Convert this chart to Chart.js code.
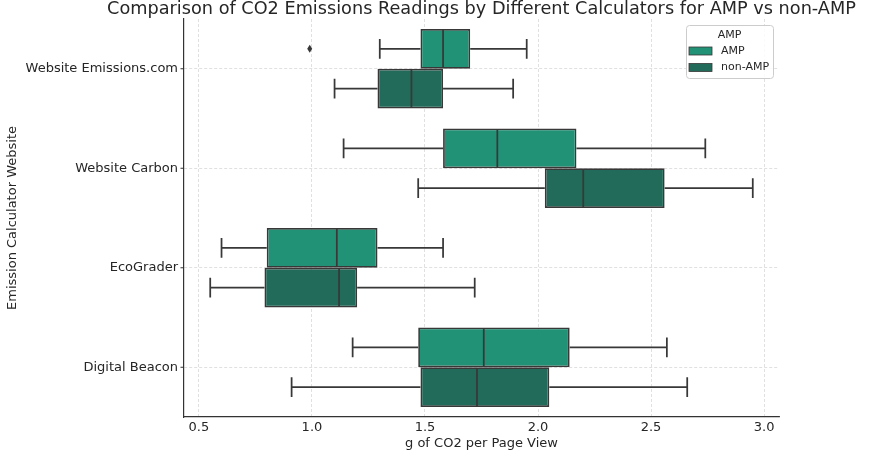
<!DOCTYPE html>
<html>
<head>
<meta charset="utf-8">
<script src="https://cdn.jsdelivr.net/npm/chart.js@4.4.0/dist/chart.umd.min.js"></script>
<style>
  html, body { margin: 0; padding: 0; background: #fff; }
  #wrap { width: 876px; height: 455px; }
</style>
</head>
<body>
<div id="wrap"><canvas id="chart"></canvas></div>
<script>
// Calculators on the y axis
const calculators = ['Website Emissions.com', 'Website Carbon', 'EcoGrader', 'Digital Beacon'];
const seriesNames = ['AMP', 'non-AMP'];
const xTicks = [0.5, 1.0, 1.5, 2.0, 2.5, 3.0];

// AMP box stats (g CO2 per page view)
const ampLow = [1.30, 1.14, 0.60, 1.18];
const ampQ1 = [1.48, 1.58, 0.80, 1.47];
const ampMedian = [1.58, 1.82, 1.11, 1.76];
const ampQ3 = [1.70, 2.17, 1.29, 2.14];
const ampHigh = [1.95, 2.74, 1.58, 2.57];
const ampOutliers = [[0.99], [], [], []];

// non-AMP box stats
const nonLow = [1.10, 1.47, 0.55, 0.91];
const nonQ1 = [1.29, 2.03, 0.79, 1.48];
const nonMedian = [1.44, 2.20, 1.12, 1.73];
const nonQ3 = [1.58, 2.56, 1.20, 2.05];
const nonHigh = [1.89, 2.95, 1.72, 2.66];
const nonOutliers = [[], [], [], []];

const colors = ['#229276', '#226b5a'];
const lineColor = '#383838';
const textColor = '#262626';
const FONT = '"DejaVu Sans", sans-serif';

const stats = [
    { low: ampLow, med: ampMedian, high: ampHigh, out: ampOutliers },
    { low: nonLow, med: nonMedian, high: nonHigh, out: nonOutliers }
];

// Whiskers, medians, outliers, titles and legend
const boxPlugin = {
    id: 'boxExtras',
    afterDatasetsDraw(chart) {
        const ctx = chart.ctx;
        const x = chart.scales.x;
        ctx.save();
        ctx.strokeStyle = lineColor;
        ctx.lineWidth = 1.75;
        stats.forEach((s, d) => {
            const meta = chart.getDatasetMeta(d);
            meta.data.forEach((el, i) => {
                const yc = el.y;
                const h = el.height;
                const q1 = x.getPixelForValue(chart.data.datasets[d].data[i][0]);
                const q3 = x.getPixelForValue(chart.data.datasets[d].data[i][1]);
                const lo = x.getPixelForValue(s.low[i]);
                const hi = x.getPixelForValue(s.high[i]);
                const md = x.getPixelForValue(s.med[i]);
                ctx.beginPath();
                ctx.moveTo(lo, yc); ctx.lineTo(q1, yc);
                ctx.moveTo(q3, yc); ctx.lineTo(hi, yc);
                ctx.moveTo(lo, yc - h / 4); ctx.lineTo(lo, yc + h / 4);
                ctx.moveTo(hi, yc - h / 4); ctx.lineTo(hi, yc + h / 4);
                ctx.moveTo(md, yc - h / 2 + 0.75); ctx.lineTo(md, yc + h / 2 - 0.75);
                ctx.stroke();
                // outliers as diamonds
                ctx.fillStyle = lineColor;
                s.out[i].forEach(v => {
                    const px = x.getPixelForValue(v);
                    ctx.beginPath();
                    ctx.moveTo(px, yc - 4);
                    ctx.lineTo(px + 2.5, yc);
                    ctx.lineTo(px, yc + 4);
                    ctx.lineTo(px - 2.5, yc);
                    ctx.closePath();
                    ctx.fill();
                });
            });
        });
        ctx.restore();
    },
    afterDraw(chart) {
        const ctx = chart.ctx;
        const area = chart.chartArea;
        const y = chart.scales.y;
        ctx.save();

        // small y tick marks
        ctx.strokeStyle = '#333';
        ctx.lineWidth = 1;
        calculators.forEach((c, i) => {
            const py = y.getPixelForValue(i);
            ctx.beginPath();
            ctx.moveTo(area.left - 3.5, py);
            ctx.lineTo(area.left, py);
            ctx.stroke();
        });

        // title
        ctx.fillStyle = textColor;
        ctx.font = '17.7px ' + FONT;
        ctx.textAlign = 'center';
        ctx.textBaseline = 'alphabetic';
        ctx.fillText('Comparison of CO2 Emissions Readings by Different Calculators for AMP vs non-AMP', 481.5, 14);

        // axis titles
        ctx.font = '13px ' + FONT;
        ctx.textBaseline = 'middle';
        ctx.fillText('g of CO2 per Page View', (area.left + area.right) / 2, 444);
        ctx.save();
        ctx.translate(13, (area.top + area.bottom) / 2);
        ctx.rotate(-Math.PI / 2);
        ctx.fillText('Emission Calculator Website', 0, 0);
        ctx.restore();

        // legend
        const lx = 686, ly = 25, lw = 87, lh = 53;
        ctx.fillStyle = 'rgba(255,255,255,0.85)';
        ctx.strokeStyle = '#cccccc';
        ctx.lineWidth = 1;
        ctx.beginPath();
        ctx.roundRect(lx + 0.5, ly + 0.5, lw, lh, 3);
        ctx.fill();
        ctx.stroke();
        ctx.font = '11px ' + FONT;
        ctx.fillStyle = textColor;
        ctx.textAlign = 'center';
        ctx.fillText('AMP', lx + lw / 2, ly + 10);
        ctx.textAlign = 'left';
        seriesNames.forEach((n, k) => {
            const ry = ly + 22 + k * 16.5;
            ctx.fillStyle = colors[k];
            ctx.fillRect(689, ry, 23, 8);
            ctx.strokeStyle = lineColor;
            ctx.lineWidth = 0.8;
            ctx.strokeRect(689, ry, 23, 8);
            ctx.fillStyle = textColor;
            ctx.fillText(n, 721, ry + 4);
        });
        ctx.restore();
    }
};

const gridColor = 'rgba(190,190,190,0.6)';

new Chart(document.getElementById('chart'), {
    type: 'bar',
    data: {
        labels: calculators,
        datasets: [
            {
                label: seriesNames[0],
                data: ampQ1.map((q, i) => [q, ampQ3[i]]),
                backgroundColor: colors[0],
                borderColor: lineColor,
                borderWidth: 1.75,
                borderSkipped: false,
                categoryPercentage: 0.8,
                barPercentage: 1.0
            },
            {
                label: seriesNames[1],
                data: nonQ1.map((q, i) => [q, nonQ3[i]]),
                backgroundColor: colors[1],
                borderColor: lineColor,
                borderWidth: 1.75,
                borderSkipped: false,
                categoryPercentage: 0.8,
                barPercentage: 1.0
            }
        ]
    },
    options: {
        indexAxis: 'y',
        responsive: true,
        maintainAspectRatio: false,
        animation: false,
        layout: { padding: { top: 19, right: 97, bottom: 0, left: 0 } },
        plugins: {
            legend: { display: false },
            tooltip: { enabled: false }
        },
        scales: {
            x: {
                type: 'linear',
                min: 0.434,
                max: 3.066,
                z: 1,
                afterBuildTicks: scale => { scale.ticks = xTicks.map(v => ({ value: v })); },
                afterFit: scale => { scale.height = 38; },
                ticks: {
                    color: textColor,
                    font: { family: FONT, size: 13 },
                    padding: 3,
                    callback: v => Number(v).toFixed(1)
                },
                grid: { color: gridColor, lineWidth: 0.8, drawTicks: false },
                border: { display: true, color: '#333', width: 1.2, dash: [3, 2] }
            },
            y: {
                type: 'category',
                z: 1,
                afterFit: scale => { scale.width = 184; },
                ticks: {
                    color: textColor,
                    font: { family: FONT, size: 13 },
                    padding: 6
                },
                grid: { color: gridColor, lineWidth: 0.8, drawTicks: false, offset: false },
                border: { display: true, color: '#333', width: 1.2, dash: [3, 2] }
            }
        }
    },
    plugins: [boxPlugin]
});
</script>
</body>
</html>
